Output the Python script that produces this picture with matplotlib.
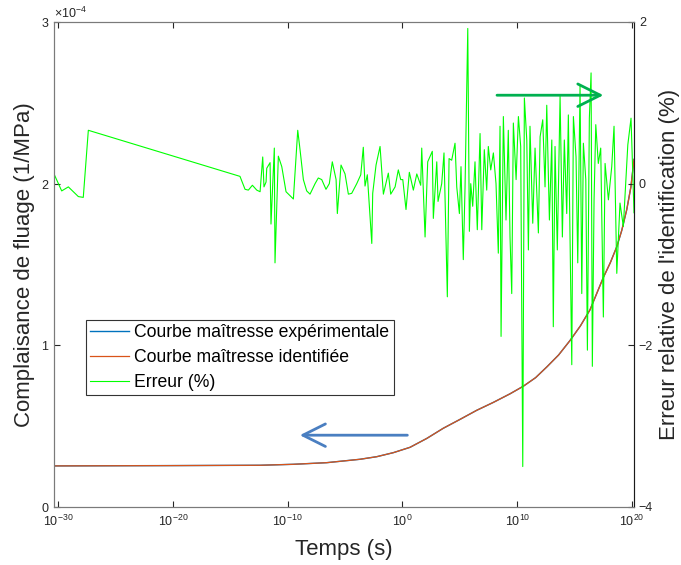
import numpy as np
import matplotlib
matplotlib.use("Agg")
import matplotlib.pyplot as plt
from matplotlib.ticker import FixedLocator, NullLocator, LogFormatterMathtext

plt.rcParams['font.family'] = ['Liberation Sans', 'DejaVu Sans']
plt.rcParams['mathtext.fontset'] = 'custom'
plt.rcParams['mathtext.rm'] = 'Liberation Sans'
plt.rcParams['mathtext.it'] = 'Liberation Sans:italic'

# courbe maîtresse (log10 du temps, complaisance en 1e-4 1/MPa)
log_t_courbe = [-30.35, -20, -12.4, -9.5, -6.6, -3.7, -2.24, -0.79, 0.66, 2.12,
                3.56, 5.02, 6.47, 7.92, 9.37, 10.53, 11.6, 12.6, 13.6, 14.6, 15.5,
                16.34, 17.5, 18.1, 18.67, 19.1, 19.54, 19.9, 20.17]
compl_exp = [0.254, 0.256, 0.258, 0.264, 0.274, 0.295, 0.311, 0.336, 0.369, 0.424,
             0.487, 0.542, 0.598, 0.647, 0.700, 0.747, 0.80, 0.868, 0.94, 1.03, 1.12,
             1.22, 1.42, 1.51, 1.61, 1.71, 1.84, 1.98, 2.15]
compl_ident = [0.254, 0.256, 0.258, 0.264, 0.274, 0.295, 0.311, 0.336, 0.369, 0.424,
               0.487, 0.542, 0.598, 0.647, 0.700, 0.747, 0.80, 0.868, 0.94, 1.03, 1.12,
               1.22, 1.42, 1.51, 1.61, 1.71, 1.84, 1.98, 2.15]

# erreur relative (%)
log_t_err = [-30.35, -29.68, -29.10, -28.23, -27.80, -27.36, -14.15, -13.71, -13.42,
             -13.07, -12.69, -12.40, -12.17, -12.06, -11.88, -11.82, -11.53, -11.45,
             -11.16, -11.10, -10.81, -10.51, -10.14, -9.79, -9.50, -9.12, -8.92,
             -8.63, -8.34, -8.05, -7.61, -7.33, -7.03, -6.66, -6.37, -6.11, -5.78,
             -5.67, -5.35, -5.00, -4.71, -4.42, -3.98, -3.63, -3.41, -3.26, -3.06,
             -2.67, -2.59, -2.30, -1.95, -1.66, -1.23, -1.02, -0.64, -0.36, -0.15,
             0.03, 0.31, 0.60, 0.95, 1.25, 1.59, 1.68, 1.97, 2.20, 2.60, 2.69, 2.99,
             3.10, 3.42, 3.62, 3.91, 4.06, 4.29, 4.58, 4.73, 4.96, 5.10, 5.30, 5.45,
             5.69, 5.83, 5.95, 6.12, 6.32, 6.52, 6.76, 6.91, 7.13, 7.34, 7.48, 7.69,
             7.92, 8.15, 8.35, 8.50, 8.59, 8.79, 9.02, 9.22, 9.37, 9.52, 9.66, 9.90,
             10.10, 10.30, 10.48, 10.62, 10.83, 10.97, 11.11, 11.35, 11.55, 11.84,
             11.99, 12.22, 12.42, 12.57, 12.80, 13.01, 13.14, 13.29, 13.49, 13.73,
             13.93, 14.10, 14.31, 14.45, 14.60, 14.75, 14.89, 15.12, 15.27, 15.47,
             15.62, 15.76, 15.97, 16.11, 16.28, 16.43, 16.54, 16.69, 16.84, 17.06,
             17.27, 17.50, 17.65, 17.94, 18.23, 18.43, 18.67, 18.95, 19.24, 19.63,
             19.91, 20.17]
erreur = [0.12, -0.09, -0.04, -0.16, -0.17, 0.66, 0.09, -0.07, -0.08,
          -0.02, -0.08, -0.10, 0.33, -0.04, 0.02, 0.19, 0.26, -0.50,
          0.44, -0.98, 0.34, 0.21, -0.10, -0.15, -0.19, 0.66, 0.42,
          0.05, -0.09, -0.13, 0.00, 0.07, 0.05, -0.07, 0.00, 0.27, 0.05,
          -0.37, 0.23, 0.12, -0.13, -0.12, 0.00, 0.11, 0.45, -0.03, 0.11,
          -0.74, -0.12, 0.23, 0.46, -0.13, 0.13, -0.13, -0.04, 0.17, 0.05,
          0.05, -0.32, 0.14, -0.08, 0.12, -0.02, 0.44, -0.66, 0.27, 0.40, -0.43, 0.27,
          -0.22, 0.00, 0.38, -1.40, 0.31, 0.29, 0.50, -0.04, -0.37, 0.21, -0.94, -0.06,
          1.92, -0.59, 0.00, -0.28, 0.27, -0.57, 0.62, -0.57, 0.42, -0.08, 0.46, 0.17,
          0.38, 0.00, -0.86, 0.71, -1.89, 0.83, -0.45, 0.66, -0.66, -1.36, 0.75, 0.05,
          0.83, 0.46, -3.50, 1.06, 0.54, -0.82, 0.71, -0.49, 0.44, -0.61,
          0.58, 0.79, -0.04, 0.97, -0.45, 0.54, -1.77, 0.46, -0.82, 1.08,
          -0.66, 0.54, -0.37, 0.85, -0.74, -2.24, 0.83, 0.33, -0.98, 1.22,
          -1.36, 0.50, 0.05, -2.06, 0.81, 1.37, -2.26, -0.20, 0.73, 0.25,
          0.44, -1.65, 0.25, -0.20, 0.21, 0.71, -1.11, -0.24, -0.53, 0.48,
          0.81, -0.36]

x_ticks = [1e-30, 1e-20, 1e-10, 1e0, 1e10, 1e20]

bleu = (0, 0.447, 0.741)
orange = (0.85, 0.325, 0.098)
vert = (0, 1, 0)

fig = plt.figure(figsize=(6.81, 5.65), dpi=100)
ax = fig.add_axes([0.0793, 0.1027, 0.8517, 0.8584])
ax2 = ax.twinx()

t_c = 10.0 ** np.array(log_t_courbe)
l1, = ax.plot(t_c, np.array(compl_exp) * 1e-4, color=bleu, lw=1.0,
              label='Courbe maîtresse expérimentale')
l2, = ax.plot(t_c, np.array(compl_ident) * 1e-4, color=orange, lw=0.9,
              label='Courbe maîtresse identifiée')
l3, = ax2.plot(10.0 ** np.array(log_t_err), erreur, color=vert, lw=0.8,
               label='Erreur (%)')

ax.set_xscale('log')
ax.set_xlim(10 ** -30.35, 10 ** 20.17)
ax.set_ylim(0, 3e-4)
ax2.set_ylim(-4, 2)

ax.xaxis.set_major_locator(FixedLocator(x_ticks))
ax.xaxis.set_minor_locator(NullLocator())
ax.xaxis.set_major_formatter(LogFormatterMathtext())
ax.set_yticks([0, 1e-4, 2e-4, 3e-4])
ax.ticklabel_format(axis='y', style='sci', scilimits=(0, 0), useMathText=True)
ax2.set_yticks([-4, -2, 0, 2])

gris = '#262626'
for a in (ax, ax2):
    for s in a.spines.values():
        s.set_color('#7a7a7a')
        s.set_linewidth(0.8)
ax2.spines['right'].set_color('#1a1a1a')
ax.tick_params(axis='x', which='both', direction='in', top=True, length=4,
               labelsize=9, colors=gris, pad=5)
ax.tick_params(axis='y', direction='in', length=4, labelsize=9, colors=gris)
ax2.tick_params(axis='y', direction='in', length=4, labelsize=9, colors=gris)
ax.yaxis.get_offset_text().set_fontsize(9)
ax.yaxis.get_offset_text().set_color(gris)

ax.set_xlabel('Temps (s)', fontsize=16, color=gris, labelpad=7)
ax.set_ylabel('Complaisance de fluage (1/MPa)', fontsize=16, color=gris)
ax2.set_ylabel("Erreur relative de l'identification (%)", fontsize=16, color=gris,
               labelpad=4)

# flèches indiquant l'axe de chaque courbe
ax.annotate('', xy=(0.419, 0.148), xytext=(0.614, 0.148), xycoords='axes fraction',
            arrowprops=dict(arrowstyle='->,head_length=0.9,head_width=0.45',
                            color='#4a7fc1', lw=2.0, mutation_scale=18))
ax2.annotate('', xy=(0.952, 0.849), xytext=(0.759, 0.849), xycoords='axes fraction',
             arrowprops=dict(arrowstyle='->,head_length=0.9,head_width=0.45',
                             color='#00b050', lw=2.0, mutation_scale=18))

leg = ax2.legend(handles=[l1, l2, l3], loc='upper left',
                 bbox_to_anchor=(0.055, 0.386), fontsize=12.7, frameon=True,
                 fancybox=False, framealpha=1, edgecolor='#333333',
                 handlelength=2.2, handletextpad=0.3, labelspacing=0.45,
                 borderpad=0.25, borderaxespad=0)
leg.get_frame().set_linewidth(0.8)

fig.savefig('out.png', dpi=100)
